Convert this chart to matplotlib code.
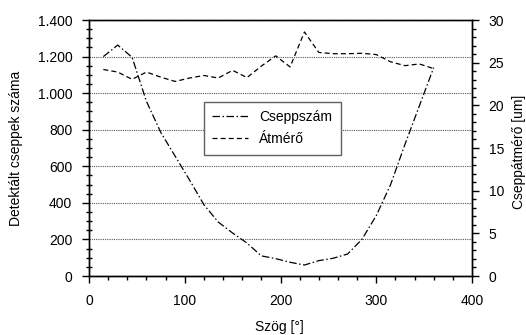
import matplotlib
matplotlib.use("Agg")
import matplotlib.pyplot as plt
from matplotlib.ticker import MultipleLocator, FuncFormatter

plt.rcParams['font.family'] = ['Liberation Sans', 'DejaVu Sans']
plt.rcParams['font.size'] = 10

# szög [°]
angle = [15, 30, 45, 60, 75, 90, 105, 120, 135, 150, 165, 180,
         195, 210, 225, 240, 255, 270, 285, 300, 315, 330, 345, 360]
# detektált cseppek száma
drops = [1200, 1263, 1196, 955, 785, 655, 525, 390, 295, 235, 180, 110,
         95, 75, 60, 84, 97, 120, 200, 330, 500, 720, 930, 1140]
# cseppátmérő [um]
diam = [24.2, 23.9, 23.05, 23.9, 23.3, 22.8, 23.2, 23.5, 23.2, 24.1, 23.25, 24.6,
        25.8, 24.5, 28.6, 26.2, 26.05, 26.05, 26.1, 25.95, 25.1, 24.65, 24.85, 24.3]

fig = plt.figure(figsize=(5.26, 3.35), dpi=100)
ax = fig.add_axes([89/526, 1 - 276/335, 383/526, 256/335])
ax2 = ax.twinx()

l1, = ax.plot(angle, drops, color='black', lw=0.9, dashes=(6, 2, 1.2, 2), label='Cseppszám')
l2, = ax2.plot(angle, diam, color='black', lw=0.9, dashes=(4, 2.5), label='Átmérő')

ax.set_xlim(0, 400)
ax.set_ylim(0, 1400)
ax2.set_ylim(0, 30)

ax.xaxis.set_major_locator(MultipleLocator(100))
ax.xaxis.set_minor_locator(MultipleLocator(20))
ax.yaxis.set_major_locator(MultipleLocator(200))
ax.yaxis.set_minor_locator(MultipleLocator(50))
ax2.yaxis.set_major_locator(MultipleLocator(5))
ax2.yaxis.set_minor_locator(MultipleLocator(1))

ax.yaxis.set_major_formatter(FuncFormatter(lambda v, p: f"{int(v):,}".replace(",", ".")))

ax.grid(axis='y', which='major', linestyle=(0, (1, 1)), color='#555555', lw=0.8)
ax.set_axisbelow(True)

ax.tick_params(axis='x', which='major', direction='out', length=5, width=1, pad=8)
ax.tick_params(axis='x', which='minor', direction='out', length=3, width=1)
ax.tick_params(axis='y', which='major', direction='out', length=5, width=1, pad=7)
ax.tick_params(axis='y', which='minor', direction='inout', length=4, width=1)
ax2.tick_params(axis='y', which='major', direction='out', length=5, width=1, pad=7)
ax2.tick_params(axis='y', which='minor', direction='out', length=3, width=1)

for a in (ax, ax2):
    for s in a.spines.values():
        s.set_linewidth(1)
ax.spines['top'].set_color('#333333')

leg = ax.legend(handles=[l1, l2], loc='center', bbox_to_anchor=(0.478, 0.578),
                fancybox=False, framealpha=1, edgecolor='#606060',
                handlelength=2.6, borderpad=0.6, labelspacing=0.6)
leg.get_frame().set_linewidth(1)

fig.text(16/526, 1 - 148/335, 'Detektált cseppek száma', rotation=90, ha='center', va='center')
fig.text(519/526, 1 - 152/335, 'Cseppátmérő [um]', rotation=90, ha='center', va='center')
fig.text(279/526, 1 - 327/335, 'Szög [°]', ha='center', va='center')

fig.savefig('out.png', dpi=100)
